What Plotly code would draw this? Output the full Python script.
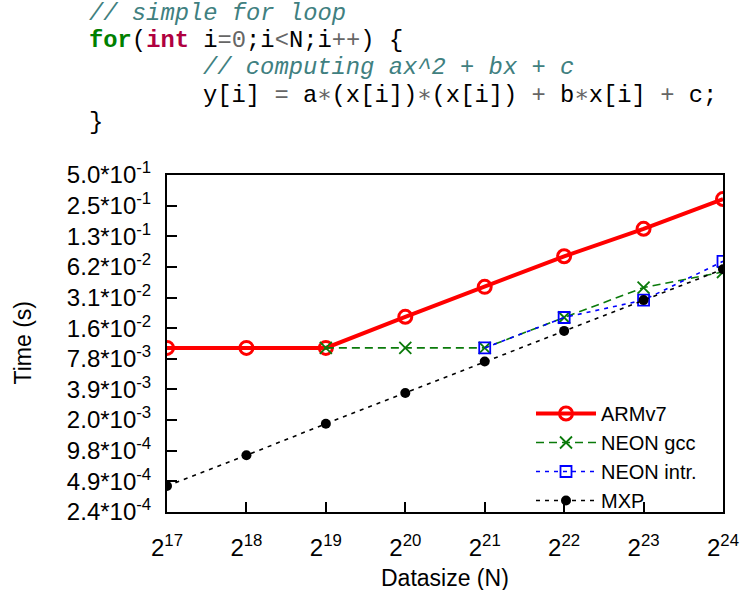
import plotly.graph_objects as go

# ---- data ----
x_exp = [17, 18, 19, 20, 21, 22, 23, 24]
datasize = [2 ** e for e in x_exp]

armv7 = [0.0100, 0.0100, 0.0100, 0.0202, 0.0398, 0.0795, 0.148, 0.290]
neon_gcc_x = [2 ** e for e in [19, 20, 21, 22, 23, 24]]
neon_gcc = [0.0100, 0.0100, 0.0100, 0.0199, 0.0392, 0.0557]
neon_intr_x = [2 ** e for e in [21, 22, 23, 24]]
neon_intr = [0.0100, 0.0199, 0.0295, 0.0709]
mxp = [0.00044, 0.00088, 0.00180, 0.00361, 0.00735, 0.0147, 0.0295, 0.0592]

y_exp = list(range(-12, 0))
y_tickvals = [2.0 ** e for e in y_exp]
y_ticktext = ["2.4*10<sup>-4</sup>", "4.9*10<sup>-4</sup>", "9.8*10<sup>-4</sup>",
              "2.0*10<sup>-3</sup>", "3.9*10<sup>-3</sup>", "7.8*10<sup>-3</sup>",
              "1.6*10<sup>-2</sup>", "3.1*10<sup>-2</sup>", "6.2*10<sup>-2</sup>",
              "1.3*10<sup>-1</sup>", "2.5*10<sup>-1</sup>", "5.0*10<sup>-1</sup>"]
x_ticktext = ["2<sup>%d</sup>" % e for e in x_exp]

FONT = "Liberation Sans, Arial, sans-serif"
MONO = "Liberation Mono, DejaVu Sans Mono, Courier New, monospace"

fig = go.Figure()
fig.add_trace(go.Scatter(
    x=datasize, y=armv7, name="ARMv7", mode="lines+markers",
    line=dict(color="#ff0000", width=4),
    marker=dict(symbol="circle-open", size=13, color="#ff0000", line=dict(width=3, color="#ff0000"))))
fig.add_trace(go.Scatter(
    x=neon_gcc_x, y=neon_gcc, name="NEON gcc", mode="lines+markers",
    line=dict(color="#0a7a0a", width=1.6, dash="8px,5px"),
    marker=dict(symbol="x-thin-open", size=12, color="#0a7a0a", line=dict(width=1.8, color="#0a7a0a"))))
fig.add_trace(go.Scatter(
    x=neon_intr_x, y=neon_intr, name="NEON intr.", mode="lines+markers",
    line=dict(color="#0000ff", width=1.6, dash="4px,5px"),
    marker=dict(symbol="square-open", size=11, color="#0000ff", line=dict(width=1.8, color="#0000ff"))))
fig.add_trace(go.Scatter(
    x=datasize, y=mxp, name="MXP", mode="lines+markers",
    line=dict(color="#000000", width=1.6, dash="4px,5px"),
    marker=dict(symbol="circle", size=10, color="#000000")))

fig.update_xaxes(
    type="log", range=[x_exp[0] * 0.30103, x_exp[-1] * 0.30103],
    tickvals=datasize, ticktext=x_ticktext, automargin=False,
    ticks="inside", ticklen=10, tickwidth=1.5, tickcolor="black",
    showline=True, linecolor="black", linewidth=2, mirror=True,
    showgrid=False, zeroline=False, ticklabelstandoff=13,
    tickfont=dict(family=FONT, size=24, color="black"))
fig.update_yaxes(
    type="log", range=[-12 * 0.30103, -1 * 0.30103],
    tickvals=y_tickvals, ticktext=y_ticktext, automargin=False,
    ticks="inside", ticklen=10, tickwidth=1.5, tickcolor="black",
    showline=True, linecolor="black", linewidth=2, mirror=True,
    showgrid=False, zeroline=False, ticklabelstandoff=9,
    tickfont=dict(family=FONT, size=24, color="black"))

L, R, T, B = 167, 20, 175, 78
W, H = 743, 590
pw, ph = W - L - R, H - T - B

def px_x(px):
    return (px - L) / pw

def px_y(py):
    return (H - B - py) / ph

K = "#008000"
KT = "#B00040"
C = "#408080"
O = "#666666"

def op(s):
    return '<span style="color:%s">%s</span>' % (O, s)

code_lines = [
    (87, 13, '<i><span style="color:%s">// simple for loop</span></i>' % C),
    (87, 40, '<b><span style="color:%s">for</span></b>(<b><span style="color:%s">int</span></b> i%s%s;i%sN;i%s) {'
     % (K, KT, op("="), op("0"), op("&lt;"), op("++"))),
    (201, 67.5, '<i><span style="color:%s">// computing ax^2 + bx + c</span></i>' % C),
    (201, 95, 'y[i] %s a%s(x[i])%s(x[i]) %s b%sx[i] %s c;'
     % (op("="), op("\u2217"), op("\u2217"), op("+"), op("\u2217"), op("+"))),
    (87, 122, '}'),
]
annotations = []
for xp, yp, txt in code_lines:
    annotations.append(dict(
        text=txt, x=px_x(xp), y=px_y(yp), xref="paper", yref="paper",
        xanchor="left", yanchor="middle", showarrow=False, align="left",
        font=dict(family=MONO, size=23.8, color="black")))

annotations.append(dict(
    text="Time (s)", x=px_x(22), y=0.5, xref="paper", yref="paper",
    textangle=-90, showarrow=False, xanchor="center", yanchor="middle",
    font=dict(family=FONT, size=23, color="black")))
annotations.append(dict(
    text="Datasize (N)", x=0.5, y=px_y(578), xref="paper", yref="paper",
    showarrow=False, xanchor="center", yanchor="middle",
    font=dict(family=FONT, size=23, color="black")))

fig.update_layout(
    width=W, height=H, autosize=False,
    margin=dict(l=L, r=R, t=T, b=B),
    paper_bgcolor="white", plot_bgcolor="white",
    annotations=annotations,
    showlegend=True,
    legend=dict(x=px_x(702), y=px_y(394), xanchor="right", yanchor="top",
                bgcolor="rgba(0,0,0,0)", borderwidth=0,
                font=dict(family=FONT, size=20, color="black"),
                tracegroupgap=0, itemwidth=60),
)

fig.write_html("out.html")
